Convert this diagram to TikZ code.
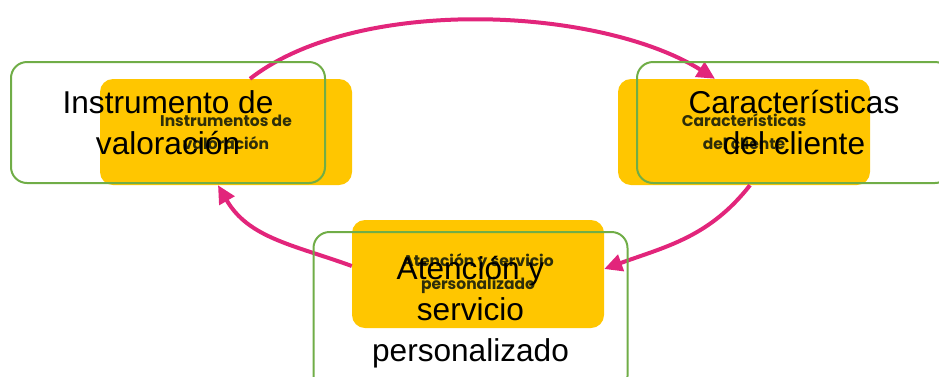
\documentclass[tikz,border=0pt]{standalone}
\usepackage{fontspec}
\setmainfont{Liberation Sans}
\newfontfamily\boxfont{Poppins}
\usetikzlibrary{arrows.meta}
\definecolor{boxyellow}{HTML}{FFC600}
\definecolor{boxgreen}{HTML}{70AD47}
\definecolor{arcpink}{HTML}{E2257B}
\definecolor{boxtext}{HTML}{2E2E0A}
\tikzset{
	back/.style={rectangle,rounded corners=13pt,fill=boxyellow,minimum width=252pt,minimum height=106pt,align=center,text=boxtext,font=\boxfont\bfseries\fontsize{15.5}{23}\selectfont},
	front/.style={rectangle,rounded corners=16pt,draw=boxgreen,line width=2pt,minimum width=314pt,minimum height=121pt,align=center,text=black,font=\fontsize{31.6}{41}\selectfont},
	cycle/.style={draw=arcpink,line width=4pt,-{Triangle[length=18pt,width=17pt]}}
}
\begin{document}
\begin{tikzpicture}[x=1pt,y=1pt]
		\useasboundingbox (0,0) rectangle (939,-376);
		% yellow boxes
		\node[back](instr) at (226,-132){Instrumentos de\\valoración};
		\node[back](carac) at (744,-132){Características\\del cliente};
		\node[back,minimum height=108pt](atenc) at (478,-274){Atención y servicio\\personalizado};
		% arcs
		\draw[cycle]([xshift=24pt]instr.north) to[out=38,in=148,looseness=0.75] ([xshift=-29pt]carac.north);
		\draw[cycle]([xshift=6pt]carac.south) to[out=232,in=20] ([yshift=5pt]atenc.east);
		\draw[cycle]([yshift=8pt]atenc.west) to[out=160,in=300] ([xshift=-8pt]instr.south);
		% green text boxes
		\node[front](instrT) at (168,-122.5){Instrumento de\\valoración};
		\node[front](caracT) at (794,-122.5){Características\\del cliente};
		\node[front,minimum height=160pt](atencT) at (470.5,-312){Atención y\\servicio\\personalizado};
	\end{tikzpicture}
\end{document}
